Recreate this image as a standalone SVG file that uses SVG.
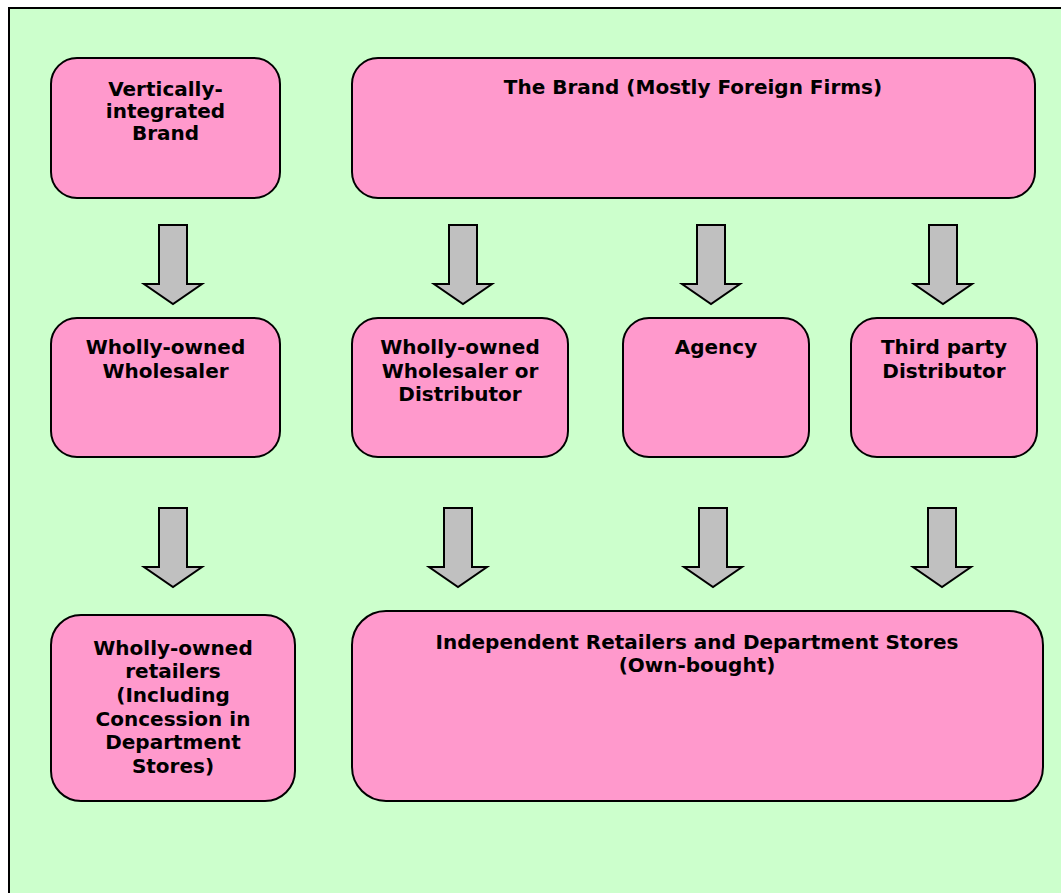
<svg xmlns="http://www.w3.org/2000/svg" width="1061" height="893" viewBox="0 0 1061 893">
<style>
.box{fill:#FF99CC;stroke:#000;stroke-width:2}
.arr{fill:#C0C0C0;stroke:#000;stroke-width:2;stroke-linejoin:miter}
.t{font-family:"DejaVu Sans",Verdana,sans-serif;font-weight:bold;font-size:20px;fill:#000;text-anchor:middle}
</style>
<defs>
<path id="dn" d="M-14,0 H14 V59 H29 L0,79 L-29,59 H-14 Z"/>
</defs>
<rect x="0" y="0" width="1061" height="893" fill="#fff"/>
<rect x="9" y="8" width="1070" height="900" fill="#CCFFCC" stroke="#000" stroke-width="2"/>
<g id="connectors">
<use href="#dn" class="arr" x="173" y="225"/>
<use href="#dn" class="arr" x="463" y="225"/>
<use href="#dn" class="arr" x="711" y="225"/>
<use href="#dn" class="arr" x="943" y="225"/>
<use href="#dn" class="arr" x="173" y="508"/>
<use href="#dn" class="arr" x="458" y="508"/>
<use href="#dn" class="arr" x="713" y="508"/>
<use href="#dn" class="arr" x="942" y="508"/>
</g>
<g id="vib">
<rect class="box" x="51" y="58" width="229" height="140" rx="26"/>
<text class="t"><tspan x="165.5" y="96">Vertically-</tspan><tspan x="165.5" y="118">integrated</tspan><tspan x="165.5" y="140">Brand</tspan></text>
</g>
<g id="brand">
<rect class="box" x="352" y="58" width="683" height="140" rx="26"/>
<text class="t" x="693" y="94">The Brand (Mostly Foreign Firms)</text>
</g>
<g id="wow">
<rect class="box" x="51" y="318" width="229" height="139" rx="26"/>
<text class="t"><tspan x="165.5" y="354">Wholly-owned</tspan><tspan x="165.5" y="378">Wholesaler</tspan></text>
</g>
<g id="wowd">
<rect class="box" x="352" y="318" width="216" height="139" rx="26"/>
<text class="t"><tspan x="460" y="354">Wholly-owned</tspan><tspan x="460" y="378">Wholesaler or</tspan><tspan x="460" y="401">Distributor</tspan></text>
</g>
<g id="agency">
<rect class="box" x="623" y="318" width="186" height="139" rx="26"/>
<text class="t" x="716" y="354">Agency</text>
</g>
<g id="tpd">
<rect class="box" x="851" y="318" width="186" height="139" rx="26"/>
<text class="t"><tspan x="944" y="354">Third party</tspan><tspan x="944" y="378">Distributor</tspan></text>
</g>
<g id="wor">
<rect class="box" x="51" y="615" width="244" height="186" rx="30"/>
<text class="t"><tspan x="173" y="655">Wholly-owned</tspan><tspan x="173" y="678">retailers</tspan><tspan x="173" y="702">(Including</tspan><tspan x="173" y="726">Concession in</tspan><tspan x="173" y="749">Department</tspan><tspan x="173" y="773">Stores)</tspan></text>
</g>
<g id="ind">
<rect class="box" x="352" y="611" width="691" height="190" rx="34"/>
<text class="t"><tspan x="697" y="649">Independent Retailers and Department Stores</tspan><tspan x="697" y="672">(Own-bought)</tspan></text>
</g>
</svg>
